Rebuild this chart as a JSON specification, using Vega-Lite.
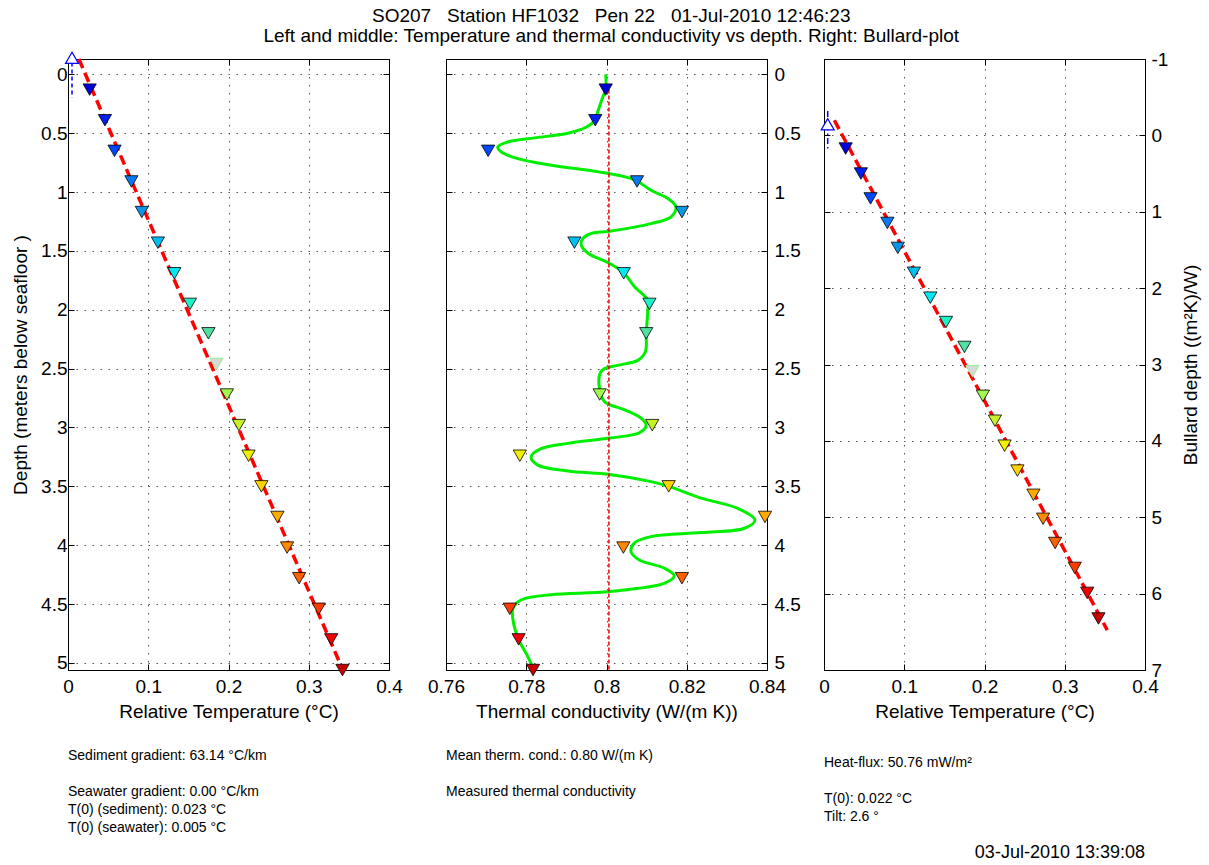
{
  "$schema": "https://vega.github.io/schema/vega-lite/v6.json",
  "autosize": {"type": "pad"},
  "padding": {"left": 11, "top": 7, "right": 0, "bottom": 0},
  "background": "white",
  "title": {
    "text": ["SO207 \u00a0 Station HF1032 \u00a0 Pen 22 \u00a0 01-Jul-2010 12:46:23", "Left and middle: Temperature and thermal conductivity vs depth. Right: Bullard-plot"],
    "anchor": "middle",
    "fontSize": 19,
    "fontWeight": "normal",
    "font": "Liberation Sans",
    "color": "#000",
    "lineHeight": 20,
    "offset": 3,
    "dx": 5
  },
  "datasets": {
    "probe": [
      {"n": 1, "depth": 0.13, "temp": 0.027, "bullard": 0.172, "k": 0.7998, "used": true},
      {"n": 2, "depth": 0.39, "temp": 0.046, "bullard": 0.499, "k": 0.7972, "used": true},
      {"n": 3, "depth": 0.65, "temp": 0.058, "bullard": 0.825, "k": 0.7705, "used": true},
      {"n": 4, "depth": 0.91, "temp": 0.079, "bullard": 1.146, "k": 0.8076, "used": true},
      {"n": 5, "depth": 1.17, "temp": 0.092, "bullard": 1.473, "k": 0.8188, "used": true},
      {"n": 6, "depth": 1.43, "temp": 0.112, "bullard": 1.799, "k": 0.792, "used": true},
      {"n": 7, "depth": 1.69, "temp": 0.1325, "bullard": 2.125, "k": 0.8043, "used": true},
      {"n": 8, "depth": 1.95, "temp": 0.152, "bullard": 2.444, "k": 0.8107, "used": true},
      {"n": 9, "depth": 2.2, "temp": 0.175, "bullard": 2.77, "k": 0.8099, "used": true},
      {"n": 10, "depth": 2.46, "temp": 0.185, "bullard": 3.087, "k": null, "used": false},
      {"n": 11, "depth": 2.72, "temp": 0.198, "bullard": 3.41, "k": 0.7983, "used": true},
      {"n": 12, "depth": 2.98, "temp": 0.213, "bullard": 3.736, "k": 0.8114, "used": true},
      {"n": 13, "depth": 3.24, "temp": 0.225, "bullard": 4.063, "k": 0.7784, "used": true},
      {"n": 14, "depth": 3.5, "temp": 0.241, "bullard": 4.389, "k": 0.8155, "used": true},
      {"n": 15, "depth": 3.76, "temp": 0.261, "bullard": 4.706, "k": 0.8395, "used": true},
      {"n": 16, "depth": 4.02, "temp": 0.273, "bullard": 5.02, "k": 0.8042, "used": true},
      {"n": 17, "depth": 4.28, "temp": 0.288, "bullard": 5.337, "k": 0.8188, "used": true},
      {"n": 18, "depth": 4.54, "temp": 0.3125, "bullard": 5.663, "k": 0.7759, "used": true},
      {"n": 19, "depth": 4.8, "temp": 0.328, "bullard": 5.99, "k": 0.7781, "used": true},
      {"n": 20, "depth": 5.06, "temp": 0.342, "bullard": 6.325, "k": 0.7817, "used": true}
    ],
    "fitDepth": [
      {"depth": -0.13, "temp": 0.0135},
      {"depth": 5.06, "temp": 0.3425}
    ],
    "fitBullard": [
      {"bullard": -0.198, "temp": 0.0129},
      {"bullard": 6.478, "temp": 0.353}
    ],
    "seawater": [
      {"panel": "depth", "temp": 0.005, "from": -0.1, "to": 0.2, "at": -0.14},
      {"panel": "bullard", "temp": 0.0046, "from": -0.32, "to": 0.2, "at": -0.146}
    ],
    "meanK": [
      {"k": 0.8006, "from": 0.13, "to": 5.06}
    ],
    "kCurve": [
      {"depth": 0.0, "k": 0.7998}, {"depth": 0.13, "k": 0.7998}, {"depth": 0.19, "k": 0.7991},
      {"depth": 0.32, "k": 0.7978}, {"depth": 0.385, "k": 0.7972}, {"depth": 0.45, "k": 0.7949},
      {"depth": 0.5, "k": 0.7904}, {"depth": 0.54, "k": 0.7821}, {"depth": 0.575, "k": 0.7754},
      {"depth": 0.617, "k": 0.7729}, {"depth": 0.66, "k": 0.7738}, {"depth": 0.716, "k": 0.7779},
      {"depth": 0.772, "k": 0.7862}, {"depth": 0.81, "k": 0.7945}, {"depth": 0.843, "k": 0.8006},
      {"depth": 0.87, "k": 0.8045}, {"depth": 0.906, "k": 0.8076}, {"depth": 0.985, "k": 0.8111},
      {"depth": 1.055, "k": 0.8153}, {"depth": 1.126, "k": 0.8173}, {"depth": 1.21, "k": 0.8161},
      {"depth": 1.268, "k": 0.8111}, {"depth": 1.333, "k": 0.8008}, {"depth": 1.352, "k": 0.7962},
      {"depth": 1.395, "k": 0.7941}, {"depth": 1.45, "k": 0.7937}, {"depth": 1.52, "k": 0.7954},
      {"depth": 1.607, "k": 0.8008}, {"depth": 1.687, "k": 0.8043}, {"depth": 1.805, "k": 0.807},
      {"depth": 1.92, "k": 0.8103}, {"depth": 2.0, "k": 0.8103}, {"depth": 2.2, "k": 0.8099},
      {"depth": 2.357, "k": 0.8097}, {"depth": 2.43, "k": 0.8078}, {"depth": 2.47, "k": 0.803},
      {"depth": 2.5, "k": 0.7995}, {"depth": 2.54, "k": 0.7984}, {"depth": 2.68, "k": 0.7983},
      {"depth": 2.78, "k": 0.7995}, {"depth": 2.85, "k": 0.8045}, {"depth": 2.92, "k": 0.8086},
      {"depth": 2.98, "k": 0.8099}, {"depth": 3.045, "k": 0.8082}, {"depth": 3.09, "k": 0.8008},
      {"depth": 3.135, "k": 0.7904}, {"depth": 3.18, "k": 0.7837}, {"depth": 3.25, "k": 0.7812},
      {"depth": 3.32, "k": 0.7829}, {"depth": 3.37, "k": 0.7904}, {"depth": 3.4, "k": 0.8008},
      {"depth": 3.46, "k": 0.8111}, {"depth": 3.5, "k": 0.8155}, {"depth": 3.6, "k": 0.8236},
      {"depth": 3.687, "k": 0.8327}, {"depth": 3.786, "k": 0.837}, {"depth": 3.856, "k": 0.8344},
      {"depth": 3.893, "k": 0.8236}, {"depth": 3.927, "k": 0.8111}, {"depth": 3.98, "k": 0.807},
      {"depth": 4.055, "k": 0.8061}, {"depth": 4.125, "k": 0.8082}, {"depth": 4.196, "k": 0.8145},
      {"depth": 4.26, "k": 0.8169}, {"depth": 4.323, "k": 0.8145}, {"depth": 4.394, "k": 0.8008},
      {"depth": 4.42, "k": 0.7862}, {"depth": 4.465, "k": 0.7787}, {"depth": 4.536, "k": 0.7767},
      {"depth": 4.635, "k": 0.7767}, {"depth": 4.8, "k": 0.7781}, {"depth": 4.946, "k": 0.7804},
      {"depth": 5.045, "k": 0.7817}
    ],
    "notes": [
      {"col": "left", "line": 1, "text": "Sediment gradient: 63.14 °C/km"},
      {"col": "left", "line": 3, "text": "Seawater gradient: 0.00 °C/km"},
      {"col": "left", "line": 4, "text": "T(0) (sediment): 0.023 °C"},
      {"col": "left", "line": 5, "text": "T(0) (seawater): 0.005 °C"},
      {"col": "middle", "line": 1, "text": "Mean therm. cond.: 0.80 W/(m K)"},
      {"col": "middle", "line": 3, "text": "Measured thermal conductivity"},
      {"col": "right", "line": 1, "text": "Heat-flux: 50.76 mW/m²"},
      {"col": "right", "line": 3, "text": "T(0): 0.022 °C"},
      {"col": "right", "line": 4, "text": "Tilt: 2.6 °"},
      {"col": "stamp", "line": 6, "text": "03-Jul-2010 13:39:08"}
    ]
  },
  "columns": 3,
  "spacing": {"row": 68, "column": 57},
  "bounds": "flush",
  "concat": [
    {
      "width": 321,
      "height": 611,
      "resolve": {"axis": {"x": "independent", "y": "independent"}},
      "layer": [
        {
          "data": {"name": "seawater"},
          "transform": [{"filter": "datum.panel == 'depth'"}],
          "mark": {"type": "rule", "color": "#0000ff", "strokeWidth": 1.5, "strokeDash": [4, 3]},
          "encoding": {
            "x": {"field": "temp", "type": "quantitative", "scale": {"domain": [0, 0.4], "nice": false, "zero": false}, "axis": null},
            "y": {"field": "from", "type": "quantitative", "scale": {"domain": [-0.13, 5.06], "reverse": true, "nice": false, "zero": false}, "axis": null},
            "y2": {"field": "to"}
          }
        },
        {
          "data": {"name": "fitDepth"},
          "mark": {"type": "line", "color": "#ff0000", "strokeWidth": 3.5, "strokeDash": [10, 5]},
          "encoding": {
            "x": {"field": "temp", "type": "quantitative", "scale": {"domain": [0, 0.4], "nice": false, "zero": false},
                  "axis": {"orient": "top", "labels": false, "title": null, "grid": false, "values": [0, 0.1, 0.2, 0.3, 0.4]}},
            "y": {"field": "depth", "type": "quantitative", "scale": {"domain": [-0.13, 5.06], "reverse": true, "nice": false, "zero": false},
                  "axis": {"orient": "right", "labels": false, "title": null, "grid": false, "values": [0, 0.5, 1, 1.5, 2, 2.5, 3, 3.5, 4, 4.5, 5]}},
            "order": {"field": "depth", "type": "quantitative"}
          }
        },
        {
          "data": {"name": "probe"},
          "transform": [{"filter": "datum.used"}],
          "mark": {"type": "point", "shape": "triangle-down", "filled": true, "size": 175, "stroke": "#000", "strokeWidth": 0.8, "opacity": 1},
          "encoding": {
            "x": {"field": "temp", "type": "quantitative", "scale": {"domain": [0, 0.4], "nice": false, "zero": false},
                  "axis": {"orient": "bottom", "title": "Relative Temperature (°C)", "grid": true, "format": "~g", "values": [0, 0.1, 0.2, 0.3, 0.4], "labelPadding": 13, "titlePadding": 6}},
            "y": {"field": "depth", "type": "quantitative", "scale": {"domain": [-0.13, 5.06], "reverse": true, "nice": false, "zero": false},
                  "axis": {"orient": "left", "title": "Depth (meters below seafloor )", "grid": true, "format": "~g", "values": [0, 0.5, 1, 1.5, 2, 2.5, 3, 3.5, 4, 4.5, 5], "labelPadding": 7, "titlePadding": 10}},
            "color": {"field": "n", "type": "ordinal", "legend": null,
                      "scale": {"domain": [1, 2, 3, 4, 5, 6, 7, 8, 9, 10, 11, 12, 13, 14, 15, 16, 17, 18, 19, 20],
                                "range": ["#0000dc", "#0020f0", "#0048ff", "#0a78f0", "#0a96e6", "#00bef0", "#00e8f4", "#20f0c8", "#50e0a0", "#d9d9d9", "#a0f850", "#c8f028", "#f0f000", "#ffd200", "#ffaa00", "#ff8a00", "#ff6000", "#ff3c00", "#f00000", "#c80000"]}}
          }
        },
        {
          "data": {"name": "probe"},
          "transform": [{"filter": "!datum.used"}],
          "mark": {"type": "point", "shape": "triangle-down", "filled": true, "size": 175, "fill": "#d9d9d9", "stroke": "#90f090", "strokeWidth": 1, "opacity": 1},
          "encoding": {
            "x": {"field": "temp", "type": "quantitative", "scale": {"domain": [0, 0.4], "nice": false, "zero": false}, "axis": null},
            "y": {"field": "depth", "type": "quantitative", "scale": {"domain": [-0.13, 5.06], "reverse": true, "nice": false, "zero": false}, "axis": null}
          }
        },
        {
          "data": {"name": "seawater"},
          "transform": [{"filter": "datum.panel == 'depth'"}],
          "mark": {"type": "point", "shape": "triangle-up", "filled": true, "size": 170, "fill": "#ffffff", "stroke": "#0000ff", "strokeWidth": 1.2, "opacity": 1},
          "encoding": {
            "x": {"field": "temp", "type": "quantitative", "scale": {"domain": [0, 0.4], "nice": false, "zero": false}, "axis": null},
            "y": {"field": "at", "type": "quantitative", "scale": {"domain": [-0.13, 5.06], "reverse": true, "nice": false, "zero": false}, "axis": null}
          }
        }
      ]
    },
    {
      "width": 321,
      "height": 611,
      "resolve": {"axis": {"x": "independent", "y": "independent"}},
      "layer": [
        {
          "data": {"name": "kCurve"},
          "mark": {"type": "line", "color": "#00ee00", "strokeWidth": 3, "interpolate": "catmull-rom"},
          "encoding": {
            "x": {"field": "k", "type": "quantitative", "scale": {"domain": [0.76, 0.84], "nice": false, "zero": false},
                  "axis": {"orient": "top", "labels": false, "title": null, "grid": false, "values": [0.76, 0.78, 0.8, 0.82, 0.84]}},
            "y": {"field": "depth", "type": "quantitative", "scale": {"domain": [-0.13, 5.06], "reverse": true, "nice": false, "zero": false},
                  "axis": {"orient": "left", "labels": false, "title": null, "grid": false, "values": [0, 0.5, 1, 1.5, 2, 2.5, 3, 3.5, 4, 4.5, 5]}},
            "order": {"field": "depth", "type": "quantitative"}
          }
        },
        {
          "data": {"name": "meanK"},
          "mark": {"type": "rule", "color": "#ee0000", "strokeWidth": 1.5, "strokeDash": [4, 2]},
          "encoding": {
            "x": {"field": "k", "type": "quantitative", "scale": {"domain": [0.76, 0.84], "nice": false, "zero": false}, "axis": null},
            "y": {"field": "from", "type": "quantitative", "scale": {"domain": [-0.13, 5.06], "reverse": true, "nice": false, "zero": false}, "axis": null},
            "y2": {"field": "to"}
          }
        },
        {
          "data": {"name": "probe"},
          "transform": [{"filter": "isValid(datum.k)"}],
          "mark": {"type": "point", "shape": "triangle-down", "filled": true, "size": 175, "stroke": "#000", "strokeWidth": 0.8, "opacity": 1},
          "encoding": {
            "x": {"field": "k", "type": "quantitative", "scale": {"domain": [0.76, 0.84], "nice": false, "zero": false},
                  "axis": {"orient": "bottom", "title": "Thermal conductivity (W/(m K))", "grid": true, "format": "~g", "values": [0.76, 0.78, 0.8, 0.82, 0.84], "labelPadding": 13, "titlePadding": 6}},
            "y": {"field": "depth", "type": "quantitative", "scale": {"domain": [-0.13, 5.06], "reverse": true, "nice": false, "zero": false},
                  "axis": {"orient": "right", "title": null, "grid": true, "format": "~g", "values": [0, 0.5, 1, 1.5, 2, 2.5, 3, 3.5, 4, 4.5, 5], "labelPadding": 13}},
            "color": {"field": "n", "type": "ordinal", "legend": null,
                      "scale": {"domain": [1, 2, 3, 4, 5, 6, 7, 8, 9, 10, 11, 12, 13, 14, 15, 16, 17, 18, 19, 20],
                                "range": ["#0000dc", "#0020f0", "#0048ff", "#0a78f0", "#0a96e6", "#00bef0", "#00e8f4", "#20f0c8", "#50e0a0", "#d9d9d9", "#a0f850", "#c8f028", "#f0f000", "#ffd200", "#ffaa00", "#ff8a00", "#ff6000", "#ff3c00", "#f00000", "#c80000"]}}
          }
        }
      ]
    },
    {
      "width": 321,
      "height": 611,
      "resolve": {"axis": {"x": "independent", "y": "independent"}},
      "layer": [
        {
          "data": {"name": "seawater"},
          "transform": [{"filter": "datum.panel == 'bullard'"}],
          "mark": {"type": "rule", "color": "#0000ff", "strokeWidth": 1.5, "strokeDash": [6, 3, 1.5, 3]},
          "encoding": {
            "x": {"field": "temp", "type": "quantitative", "scale": {"domain": [0, 0.4], "nice": false, "zero": false}, "axis": null},
            "y": {"field": "from", "type": "quantitative", "scale": {"domain": [-1, 7], "reverse": true, "nice": false, "zero": false}, "axis": null},
            "y2": {"field": "to"}
          }
        },
        {
          "data": {"name": "fitBullard"},
          "mark": {"type": "line", "color": "#ff0000", "strokeWidth": 3.5, "strokeDash": [10, 5]},
          "encoding": {
            "x": {"field": "temp", "type": "quantitative", "scale": {"domain": [0, 0.4], "nice": false, "zero": false},
                  "axis": {"orient": "top", "labels": false, "title": null, "grid": false, "values": [0, 0.1, 0.2, 0.3, 0.4]}},
            "y": {"field": "bullard", "type": "quantitative", "scale": {"domain": [-1, 7], "reverse": true, "nice": false, "zero": false},
                  "axis": {"orient": "left", "labels": false, "title": null, "grid": false, "values": [-1, 0, 1, 2, 3, 4, 5, 6, 7]}},
            "order": {"field": "bullard", "type": "quantitative"}
          }
        },
        {
          "data": {"name": "probe"},
          "transform": [{"filter": "datum.used"}],
          "mark": {"type": "point", "shape": "triangle-down", "filled": true, "size": 175, "stroke": "#000", "strokeWidth": 0.8, "opacity": 1},
          "encoding": {
            "x": {"field": "temp", "type": "quantitative", "scale": {"domain": [0, 0.4], "nice": false, "zero": false},
                  "axis": {"orient": "bottom", "title": "Relative Temperature (°C)", "grid": true, "format": "~g", "values": [0, 0.1, 0.2, 0.3, 0.4], "labelPadding": 13, "titlePadding": 6}},
            "y": {"field": "bullard", "type": "quantitative", "scale": {"domain": [-1, 7], "reverse": true, "nice": false, "zero": false},
                  "axis": {"orient": "right", "title": "Bullard depth ((m²K)/W)", "titleAngle": 270, "titleBaseline": "top", "grid": true, "format": "~g", "labelExpr": "replace(datum.label, '\u2212', '-')", "values": [-1, 0, 1, 2, 3, 4, 5, 6, 7], "labelPadding": 12, "titlePadding": 14}},
            "color": {"field": "n", "type": "ordinal", "legend": null,
                      "scale": {"domain": [1, 2, 3, 4, 5, 6, 7, 8, 9, 10, 11, 12, 13, 14, 15, 16, 17, 18, 19, 20],
                                "range": ["#0000dc", "#0020f0", "#0048ff", "#0a78f0", "#0a96e6", "#00bef0", "#00e8f4", "#20f0c8", "#50e0a0", "#d9d9d9", "#a0f850", "#c8f028", "#f0f000", "#ffd200", "#ffaa00", "#ff8a00", "#ff6000", "#ff3c00", "#f00000", "#c80000"]}}
          }
        },
        {
          "data": {"name": "probe"},
          "transform": [{"filter": "!datum.used"}],
          "mark": {"type": "point", "shape": "triangle-down", "filled": true, "size": 175, "fill": "#d9d9d9", "stroke": "#90f090", "strokeWidth": 1, "opacity": 1},
          "encoding": {
            "x": {"field": "temp", "type": "quantitative", "scale": {"domain": [0, 0.4], "nice": false, "zero": false}, "axis": null},
            "y": {"field": "bullard", "type": "quantitative", "scale": {"domain": [-1, 7], "reverse": true, "nice": false, "zero": false}, "axis": null}
          }
        },
        {
          "data": {"name": "seawater"},
          "transform": [{"filter": "datum.panel == 'bullard'"}],
          "mark": {"type": "point", "shape": "triangle-up", "filled": true, "size": 170, "fill": "#ffffff", "stroke": "#0000ff", "strokeWidth": 1.2, "opacity": 1},
          "encoding": {
            "x": {"field": "temp", "type": "quantitative", "scale": {"domain": [0, 0.4], "nice": false, "zero": false}, "axis": null},
            "y": {"field": "at", "type": "quantitative", "scale": {"domain": [-1, 7], "reverse": true, "nice": false, "zero": false}, "axis": null}
          }
        }
      ]
    },
    {
      "width": 321,
      "height": 126,
      "view": {"stroke": null},
      "data": {"name": "notes"},
      "transform": [{"filter": "datum.col == 'left'"}],
      "mark": {"type": "text", "align": "left", "baseline": "middle", "fontSize": 14, "font": "Liberation Sans", "color": "#000"},
      "encoding": {
        "x": {"datum": 0, "type": "quantitative", "scale": {"domain": [0, 1]}, "axis": null},
        "y": {"field": "line", "type": "quantitative", "scale": {"domain": [0, 7], "reverse": true, "nice": false, "zero": false}, "axis": null},
        "text": {"field": "text"}
      }
    },
    {
      "width": 321,
      "height": 126,
      "view": {"stroke": null},
      "data": {"name": "notes"},
      "transform": [{"filter": "datum.col == 'middle'"}],
      "mark": {"type": "text", "align": "left", "baseline": "middle", "fontSize": 14, "font": "Liberation Sans", "color": "#000"},
      "encoding": {
        "x": {"datum": 0, "type": "quantitative", "scale": {"domain": [0, 1]}, "axis": null},
        "y": {"field": "line", "type": "quantitative", "scale": {"domain": [0, 7], "reverse": true, "nice": false, "zero": false}, "axis": null},
        "text": {"field": "text"}
      }
    },
    {
      "width": 321,
      "height": 126,
      "view": {"stroke": null},
      "data": {"name": "notes"},
      "layer": [
        {
          "transform": [{"filter": "datum.col == 'right'"}],
          "mark": {"type": "text", "align": "left", "baseline": "middle", "fontSize": 14, "font": "Liberation Sans", "color": "#000"},
          "encoding": {
            "x": {"datum": 0, "type": "quantitative", "scale": {"domain": [0, 1]}, "axis": null},
            "y": {"field": "line", "type": "quantitative", "scale": {"domain": [-0.39, 6.61], "reverse": true, "nice": false, "zero": false}, "axis": null},
            "text": {"field": "text"}
          }
        },
        {
          "transform": [{"filter": "datum.col == 'stamp'"}],
          "mark": {"type": "text", "align": "right", "baseline": "middle", "fontSize": 18, "font": "Liberation Sans", "color": "#000"},
          "encoding": {
            "x": {"datum": 1, "type": "quantitative", "scale": {"domain": [0, 1]}, "axis": null},
            "y": {"field": "line", "type": "quantitative", "scale": {"domain": [-0.39, 6.61], "reverse": true, "nice": false, "zero": false}, "axis": null},
            "text": {"field": "text"}
          }
        }
      ]
    }
  ],
  "config": {
    "font": "Liberation Sans",
    "view": {"stroke": "#000", "strokeWidth": 1},
    "axis": {
      "labelFont": "Liberation Sans",
      "labelFontSize": 19,
      "labelColor": "#000",
      "titleFont": "Liberation Sans",
      "titleFontSize": 19,
      "titleFontWeight": "normal",
      "titleColor": "#000",
      "domainColor": "#000",
      "domainWidth": 1,
      "tickColor": "#000",
      "tickWidth": 1,
      "tickSize": -6,
      "gridColor": "#555",
      "gridDash": [1.5, 6.5],
      "gridWidth": 1,
      "gridOpacity": 1,
      "labelFlush": false,
      "labelOverlap": false
    }
  }
}
